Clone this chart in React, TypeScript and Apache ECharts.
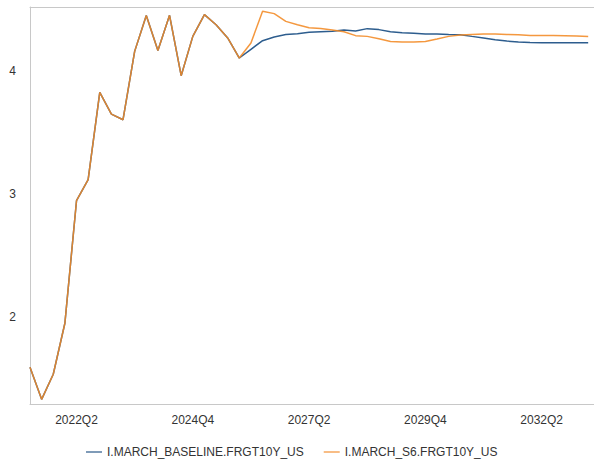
import React, { useEffect, useRef } from "react";
import * as echarts from "echarts";

const quarters: string[] = [
  "2021Q2", "2021Q3", "2021Q4",
  "2022Q1", "2022Q2", "2022Q3", "2022Q4",
  "2023Q1", "2023Q2", "2023Q3", "2023Q4",
  "2024Q1", "2024Q2", "2024Q3", "2024Q4",
  "2025Q1", "2025Q2", "2025Q3", "2025Q4",
  "2026Q1", "2026Q2", "2026Q3", "2026Q4",
  "2027Q1", "2027Q2", "2027Q3", "2027Q4",
  "2028Q1", "2028Q2", "2028Q3", "2028Q4",
  "2029Q1", "2029Q2", "2029Q3", "2029Q4",
  "2030Q1", "2030Q2", "2030Q3", "2030Q4",
  "2031Q1", "2031Q2", "2031Q3", "2031Q4",
  "2032Q1", "2032Q2", "2032Q3", "2032Q4",
  "2033Q1", "2033Q2",
];

const baseline: number[] = [
  1.593, 1.332, 1.536, 1.951, 2.948, 3.119, 3.829, 3.653, 3.607, 4.163,
  4.454, 4.170, 4.456, 3.965, 4.285, 4.462, 4.380, 4.272, 4.109, 4.180,
  4.250, 4.280, 4.300, 4.307, 4.318, 4.323, 4.326, 4.337, 4.329, 4.348,
  4.340, 4.323, 4.315, 4.310, 4.304, 4.304, 4.300, 4.299, 4.285, 4.272,
  4.258, 4.247, 4.239, 4.236, 4.234, 4.234, 4.234, 4.234, 4.234,
];

const s6: number[] = [
  1.593, 1.332, 1.536, 1.951, 2.948, 3.119, 3.829, 3.653, 3.607, 4.163,
  4.454, 4.170, 4.456, 3.965, 4.285, 4.462, 4.380, 4.272, 4.109, 4.231,
  4.489, 4.470, 4.407, 4.380, 4.356, 4.350, 4.337, 4.323, 4.291, 4.285,
  4.266, 4.244, 4.239, 4.239, 4.244, 4.264, 4.285, 4.296, 4.301, 4.304,
  4.304, 4.301, 4.299, 4.293, 4.293, 4.293, 4.291, 4.288, 4.283,
];

const xTickIndices: number[] = [4, 14, 24, 34, 44];
const yTickValues: number[] = [2, 3, 4];

const seriesNames = ["I.MARCH_BASELINE.FRGT10Y_US", "I.MARCH_S6.FRGT10Y_US"];

export default function App() {
  const ref = useRef<HTMLDivElement>(null);
  useEffect(() => {
    if (!ref.current) return;
    const chart = echarts.init(ref.current, null, { renderer: "svg" });
    const font = "'Liberation Sans', Arial, sans-serif";
    const toPairs = (arr: number[]) => arr.map((v, i) => [i, v]);
    chart.setOption({
      animation: false,
      backgroundColor: "#ffffff",
      textStyle: { fontFamily: font },
      grid: { left: 30, right: 0, top: 7, bottom: 58, containLabel: false },
      legend: {
        left: 81,
        top: 438,
        icon: "rect",
        itemWidth: 16,
        itemHeight: 2,
        itemGap: 20,
        textStyle: { fontFamily: font, fontSize: 12, color: "#333", lineHeight: 18, height: 18 },
        data: [
          { name: seriesNames[0], itemStyle: { color: "#7f9bb8" } },
          { name: seriesNames[1], itemStyle: { color: "#f8bd85" } },
        ],
      },
      xAxis: [
        {
          type: "value",
          min: 0,
          max: 48.5,
          position: "bottom",
          axisLine: { show: true, lineStyle: { color: "#c8c8c8", width: 1 } },
          axisTick: { show: false },
          splitLine: { show: false },
          axisLabel: {
            customValues: xTickIndices,
            formatter: (v: number) => quarters[Math.round(v)] ?? "",
            fontSize: 12,
            color: "#333",
            margin: 10,
            fontFamily: font,
          },
        },
        {
          type: "value",
          min: 0,
          max: 48.5,
          position: "top",
          axisLine: { show: true, lineStyle: { color: "#c8c8c8", width: 1 } },
          axisTick: { show: false },
          splitLine: { show: false },
          axisLabel: { show: false },
        },
      ],
      yAxis: {
        type: "value",
        min: 1.294,
        max: 4.524,
        axisLine: { show: true, lineStyle: { color: "#c8c8c8", width: 1 } },
        axisTick: { show: false },
        splitLine: { show: false },
        axisLabel: {
          customValues: yTickValues,
          formatter: (v: number) => String(v),
          fontSize: 12,
          color: "#333",
          margin: 14,
          fontFamily: font,
        },
      },
      series: [
        {
          name: seriesNames[0],
          type: "line",
          data: toPairs(baseline),
          showSymbol: false,
          symbol: "none",
          lineStyle: { color: "#2d5d8e", width: 1.5 },
          itemStyle: { color: "#2d5d8e" },
        },
        {
          name: seriesNames[1],
          type: "line",
          data: toPairs(s6),
          showSymbol: false,
          symbol: "none",
          lineStyle: { color: "#f28a24", width: 1.5, opacity: 0.88 },
          itemStyle: { color: "#f28a24" },
        },
      ],
    });
    return () => chart.dispose();
  }, []);
  return (
    <div
      ref={ref}
      style={{ position: "fixed", left: 0, top: 0, width: 594, height: 462 }}
    />
  );
}
